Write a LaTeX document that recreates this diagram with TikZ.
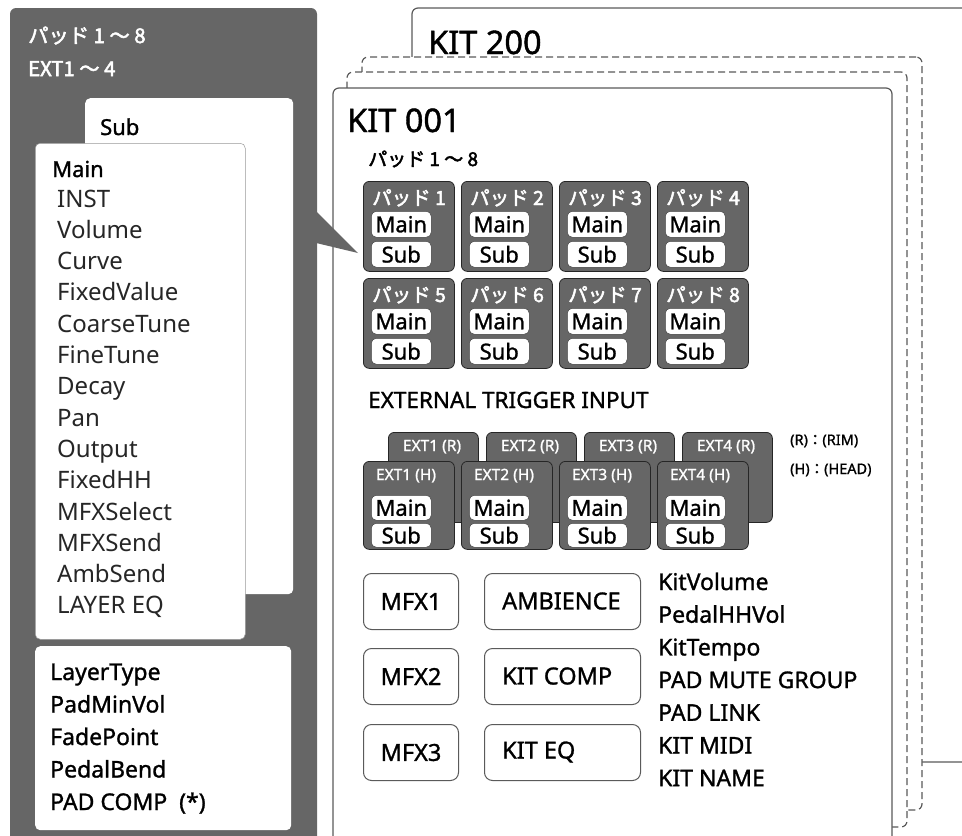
\documentclass[tikz,border=0pt]{standalone}
\usepackage{fontspec}
\setmainfont{Noto Sans}
\newfontfamily\mf[FakeBold=1.2]{Noto Sans}
\newfontfamily\jp[FakeBold=2.5]{Noto Sans CJK JP}
\definecolor{dk}{HTML}{666666}
\definecolor{ln}{HTML}{5A5A5A}
\begin{document}
\begin{tikzpicture}[x=1pt,y=-1pt,
  kitbox/.style={draw=ln,line width=1.2pt,fill=white,rounded corners=6pt,anchor=north west,inner sep=0pt,outer sep=0pt},
  dashbox/.style={kitbox,dash pattern=on 7pt off 4pt},
  padbox/.style={draw=black!85,line width=0.8pt,fill=dk,rounded corners=6pt,anchor=north west,inner sep=0pt},
  pill/.style={fill=white,draw=black!75,line width=0.5pt,rounded corners=5pt,anchor=north west,minimum width=60pt,minimum height=26pt,inner sep=0pt,font=\mf\fontsize{22}{24}\selectfont},
  whitebox/.style={fill=white,rounded corners=5pt,anchor=north west,inner sep=0pt},
  fxbox/.style={draw=ln,line width=1pt,fill=white,rounded corners=8pt,anchor=north west,inner sep=0pt,font=\mf\fontsize{23.5}{26}\selectfont},
  fxtxt/.style={anchor=west,inner sep=0pt,font=\mf\fontsize{23.5}{26}\selectfont},
  txt/.style={inner sep=0pt,anchor=base west},
  big/.style={txt,font=\mf\fontsize{32.5}{36}\selectfont},
  hdr/.style={txt,text=white,font=\jp\fontsize{20.3}{24}\selectfont},
  item/.style={txt,text=black!85,font=\fontsize{24}{28}\selectfont},
  med/.style={txt,font=\mf\fontsize{23}{26}\selectfont},
  padlbl/.style={txt,text=white,font=\jp\fontsize{19.5}{22}\selectfont},
  extlbl/.style={inner sep=0pt,anchor=base,text=white,font=\mf\fontsize{15.5}{18}\selectfont},
  small/.style={txt,font=\mf\fontsize{14.5}{18}\selectfont}
]
\useasboundingbox (0,0) rectangle (962,836);
\clip (0,0) rectangle (962,836);
% ---------- kit stack ----------
\node[kitbox,minimum width=580pt,minimum height=754pt] (k200) at (412,8) {};
\node[big] (k200t) at (428,54) {KIT 200};
\node[dashbox,minimum width=560pt,minimum height=753pt] (kd2) at (362,57) {};
\node[dashbox,minimum width=560pt,minimum height=755pt] (kd1) at (347,72) {};
\node[kitbox,minimum width=559pt,minimum height=800pt] (k001) at (333,88) {};
\node[big] (k001t) at (347,132) {KIT 001};
\node[txt,font=\jp\fontsize{19}{22}\selectfont] (k001s) at (368,166) {パッド 1 ～ 8};
% ---------- pads ----------
\foreach \i/\x/\y in {1/363/181,2/461/181,3/559/181,4/657/181,5/363/278,6/461/278,7/559/278,8/657/278}{
  \node[padbox,minimum width=91pt,minimum height=90pt] (pad\i) at (\x,\y) {};
  \node[padlbl] (pad\i l) at (\x+9,\y+24) {パッド \i};
  \node[pill] (pad\i m) at (\x+8,\y+30) {Main};
  \node[pill] (pad\i s) at (\x+8,\y+60) {Sub};
}
% ---------- external trigger ----------
\node[txt,font=\mf\fontsize{22.5}{26}\selectfont] (extt) at (368,408) {EXTERNAL TRIGGER INPUT};
\foreach \i in {1,...,4}{
  \node[padbox,minimum width=90pt,minimum height=90pt] (extr\i) at ({388+98*(\i-1)},432) {};
  \node[extlbl] (extr\i l) at ({432+98*(\i-1)},451) {EXT\i\ (R)};
}
\foreach \i in {1,...,4}{
  \node[padbox,minimum width=91pt,minimum height=88pt] (exth\i) at ({363+98*(\i-1)},461) {};
  \node[extlbl] (exth\i l) at ({406+98*(\i-1)},480) {EXT\i\ (H)};
  \node[pill,minimum height=25pt] (exth\i m) at ({371+98*(\i-1)},495) {Main};
  \node[pill,minimum height=24pt] (exth\i s) at ({371+98*(\i-1)},523) {Sub};
}
\node[small] (legr) at (790,445) {(R)\jp ：\mf(RIM)};
\node[small] (legh) at (790,474) {(H)\jp ：\mf(HEAD)};
% ---------- effects ----------
\node[fxbox,minimum width=95pt,minimum height=56pt] (mfx1) at (363,573) {MFX1};
\node[fxbox,minimum width=95pt,minimum height=56pt] (mfx2) at (363,648) {MFX2};
\node[fxbox,minimum width=95pt,minimum height=56pt] (mfx3) at (363,724) {MFX3};
\node[fxbox,minimum width=156pt,minimum height=56pt] (amb) at (484,573) {};
\node[fxbox,minimum width=156pt,minimum height=56pt] (kcomp) at (484,648) {};
\node[fxbox,minimum width=156pt,minimum height=56pt] (keq) at (484,724) {};
\node[fxtxt] (ambt) at (502,601) {AMBIENCE};
\node[fxtxt] (kcompt) at (502,676) {KIT COMP};
\node[fxtxt] (keqt) at (502,752) {KIT EQ};
\foreach \t [count=\i] in {KitVolume,PedalHHVol,KitTempo,PAD MUTE GROUP,PAD LINK,KIT MIDI,KIT NAME}{
  \node[med] (kl\i) at (658,{590+32.7*(\i-1)}) {\t};
}
% ---------- left panel ----------
\fill[dk,rounded corners=6pt] (10,880) -- (10,8) -- (317,8) -- (317,880) -- cycle;
\fill[dk] (312,207) -- (358,253) -- (312,242) -- cycle;
\node[hdr] (h1) at (28,43) {パッド 1 ～ 8};
\node[hdr] (h2) at (28,76) {EXT1 ～ 4};
\node[whitebox,minimum width=208pt,minimum height=496pt] (subb) at (85,98) {};
\node[med,font=\mf\fontsize{22}{26}\selectfont] (subt) at (100,135) {Sub};
\node[whitebox,draw=black!40,line width=0.5pt,minimum width=210pt,minimum height=496pt] (mainb) at (35,143) {};
\node[med,font=\mf\fontsize{22}{26}\selectfont] (maint) at (52,177) {Main};
\foreach \t [count=\i] in {INST,Volume,Curve,FixedValue,CoarseTune,FineTune,Decay,Pan,Output,FixedHH,MFXSelect,MFXSend,AmbSend,LAYER EQ}{
  \node[item] (li\i) at (57,{207+31.3*(\i-1)}) {\t};
}
\node[whitebox,minimum width=256pt,minimum height=184pt] (botb) at (35,646) {};
\foreach \t [count=\i] in {LayerType,PadMinVol,FadePoint,PedalBend,PAD COMP\ \ (*)}{
  \node[med] (bl\i) at (50,{680+32.5*(\i-1)}) {\t};
}
\end{tikzpicture}
\end{document}
